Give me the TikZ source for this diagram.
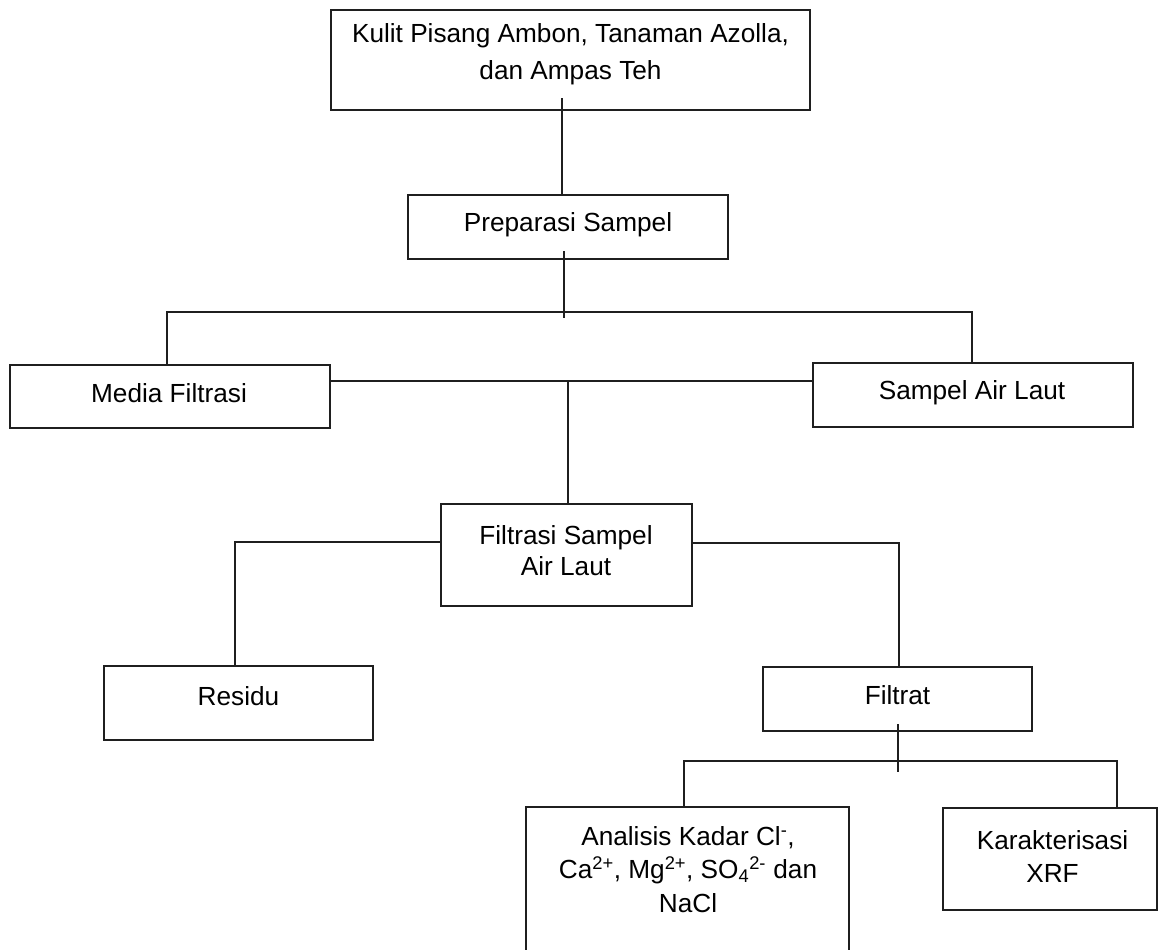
\documentclass[tikz,border=0pt]{standalone}
\usepackage{fontspec}
\setmainfont{Liberation Sans}
\begin{document}
\begin{tikzpicture}[x=1pt,y=-1pt,
  box/.style={draw=black!88, line width=1.5pt, rectangle, inner sep=0pt},
  conn/.style={draw=black!88, line width=1.5pt},
  txt/.style={align=center, inner sep=0pt, yshift=-3pt, font=\fontsize{26.2pt}{33pt}\selectfont}]
\useasboundingbox (0,0) rectangle (1159,950);
\fill[white] (0,0) rectangle (1159,950);
\clip (0,0) rectangle (1159,950);
% boxes
\node[box, minimum width=479pt, minimum height=100pt] (top) at (570.5,60) {};
\node[box, minimum width=320pt, minimum height=64pt] (prep) at (568,227) {};
\node[box, minimum width=320pt, minimum height=63pt] (media) at (170,396.5) {};
\node[box, minimum width=320pt, minimum height=64pt] (sampel) at (973,395) {};
\node[box, minimum width=251pt, minimum height=102pt] (filtrasi) at (566.5,555) {};
\node[box, minimum width=269pt, minimum height=74pt] (residu) at (238.5,703) {};
\node[box, minimum width=269pt, minimum height=64pt] (filtrat) at (897.5,699) {};
\node[box, minimum width=323pt, minimum height=200pt] (analisis) at (687.5,907) {};
\node[box, minimum width=214pt, minimum height=102pt] (karak) at (1050,859) {};
% texts
\node[txt, font=\fontsize{26.2pt}{37pt}\selectfont] (topt) at (570.5,51.5) {Kulit Pisang Ambon, Tanaman Azolla,\\dan Ampas Teh};
\node[txt] (prept) at (568,222) {Preparasi Sampel};
\node[txt] (mediat) at (169,390) {Media Filtrasi};
\node[txt] (sampelt) at (972,390) {Sampel Air Laut};
\node[txt, font=\fontsize{26.2pt}{31pt}\selectfont] (filtrasit) at (566,547.5) {Filtrasi Sampel\\Air Laut};
\node[txt] (residut) at (238.5,693) {Residu};
\node[txt] (filtratt) at (897.5,692) {Filtrat};
\node[txt, font=\fontsize{26.2pt}{33.5pt}\selectfont] (analisist) at (688,866.5) {Analisis Kadar Cl\textsuperscript{-},\\Ca\textsuperscript{2+}, Mg\textsuperscript{2+}, SO\textsubscript{4}\textsuperscript{2-} dan\\NaCl};
\node[txt] (karakt) at (1052.5,853.5) {Karakterisasi\\XRF};
% junction coordinates
\coordinate (jA) at (562,98);
\coordinate (jB) at (564,251);
\coordinate (jB2) at (564,318);
\coordinate (hL) at (167,312);
\coordinate (hR) at (972,312);
\coordinate (mL) at (330,381);
\coordinate (jE) at (568,382);
\coordinate (fL) at (235,542);
\coordinate (fR) at (899,543);
\coordinate (jH) at (898,724);
\coordinate (jH2) at (898,772);
\coordinate (iL) at (684,761);
\coordinate (iR) at (1117,761);
% connectors
\draw[conn] (jA) -- (jA |- prep.north);
\draw[conn] (jB) -- (jB2);
\draw[conn] (media.north -| hL) -- (hL) -- (hR) -- (hR |- sampel.north);
\draw[conn] (mL -| media.east) -- (mL -| sampel.west);
\draw[conn] (jE) -- (jE |- filtrasi.north);
\draw[conn] (fL -| filtrasi.west) -- (fL) -- (fL |- residu.north);
\draw[conn] (fR -| filtrasi.east) -- (fR) -- (fR |- filtrat.north);
\draw[conn] (jH) -- (jH2);
\draw[conn] (analisis.north -| iL) -- (iL) -- (iR) -- (iR |- karak.north);
\end{tikzpicture}
\end{document}
